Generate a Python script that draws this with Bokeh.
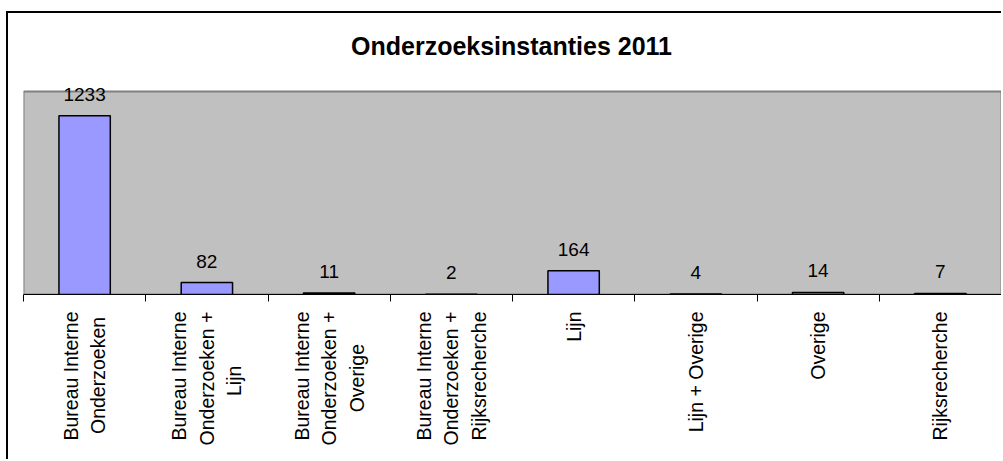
import math
from bokeh.plotting import figure
from bokeh.models import (ColumnDataSource, LabelSet, Label, FixedTicker, Range1d)
from bokeh.core.properties import value
from bokeh.embed import file_html
from bokeh.resources import INLINE

# ---- data ----
categories = [
    "Bureau Interne\nOnderzoeken",
    "Bureau Interne\nOnderzoeken +\nLijn",
    "Bureau Interne\nOnderzoeken +\nOverige",
    "Bureau Interne\nOnderzoeken +\nRijksrecherche",
    "Lijn",
    "Lijn + Overige",
    "Overige",
    "Rijksrecherche",
]
values = [1233, 82, 11, 2, 164, 4, 14, 7]
title_text = "Onderzoeksinstanties 2011"
y_max = 1400

# ---- layout (pixels) ----
W, H = 995, 448
FRAME_H = 281      # frame from canvas top down to the axis
GRAY_H = 203       # height of the grey plot area
y_end = y_max * FRAME_H / GRAY_H

n = len(categories)
centers = [i + 0.5 for i in range(n)]
src = ColumnDataSource(dict(x=centers, top=values, label=[str(v) for v in values]))

# approximate Arial/Liberation Sans advance widths (per 1000 em) used to centre
# the lines of the multi-line tick labels (Bokeh aligns them to the axis side)
_W = {"B": 667, "u": 556, "r": 333, "e": 556, "a": 556, " ": 278, "I": 278, "n": 556,
      "t": 278, "O": 778, "d": 556, "z": 500, "o": 556, "k": 500, "+": 584, "L": 556,
      "i": 222, "j": 222, "v": 500, "g": 556, "R": 722, "s": 500, "c": 500, "h": 556}


def centre_lines(label):
    lines = label.split("\n")
    widths = [sum(_W.get(ch, 556) for ch in ln) for ln in lines]
    mw = max(widths)
    out = []
    for ln, w in zip(lines, widths):
        k = int(round((mw - w) / 2 / 278))
        out.append(ln + "\u00a0" * k)
    return "\n".join(out)


p = figure(width=W, height=H, output_backend="svg", toolbar_location=None,
           x_range=Range1d(0, n), y_range=Range1d(0, y_end),
           min_border_left=15, min_border_right=2, min_border_top=0,
           min_border_bottom=H - FRAME_H)
p.margin = (11, 0, 0, 6)
p.styles = {"border-left": "2px solid black", "border-top": "2px solid black"}

p.background_fill_color = "white"
p.border_fill_color = "white"
p.outline_line_color = None
p.grid.visible = False
p.yaxis.visible = False

# grey plot area
p.quad(left=[0], right=[n], bottom=[0], top=[y_max],
       fill_color="#C0C0C0", line_color="#808080", line_width=2)

p.vbar(x="x", top="top", width=0.42, bottom=0, source=src,
       fill_color="#9999FF", line_color="black", line_width=1.5)

labels = LabelSet(x="x", y="top", text="label", source=src, y_offset=15,
                  text_align="center", text_baseline="alphabetic",
                  text_font=value("Liberation Sans"), text_font_size="19px", text_color="black")
p.add_layout(labels)

ax = p.xaxis[0]
ax.ticker = FixedTicker(ticks=centers, minor_ticks=list(range(n + 1)))
ax.major_label_overrides = {c: centre_lines(lab) for c, lab in zip(centers, categories)}
ax.major_label_orientation = math.pi / 2
ax.major_tick_out = 0
ax.major_tick_in = 0
ax.minor_tick_out = 7
ax.minor_tick_in = 0
ax.minor_tick_line_color = "black"
ax.axis_line_color = "black"
ax.axis_line_width = 1
ax.major_label_standoff = 10
ax.major_label_text_font = "Liberation Sans"
ax.major_label_text_font_size = "19.5px"
ax.major_label_text_color = "black"
ax.major_label_text_line_height = 1.25

# screen units are measured from the frame's bottom-left corner
title = Label(x=488, y=249, x_units="screen", y_units="screen", text=title_text,
              text_align="center", text_baseline="alphabetic", text_color="black",
              text_font="Liberation Sans", text_font_style="bold", text_font_size="25px")
p.add_layout(title)

open("out.html", "w").write(file_html(p, INLINE))
